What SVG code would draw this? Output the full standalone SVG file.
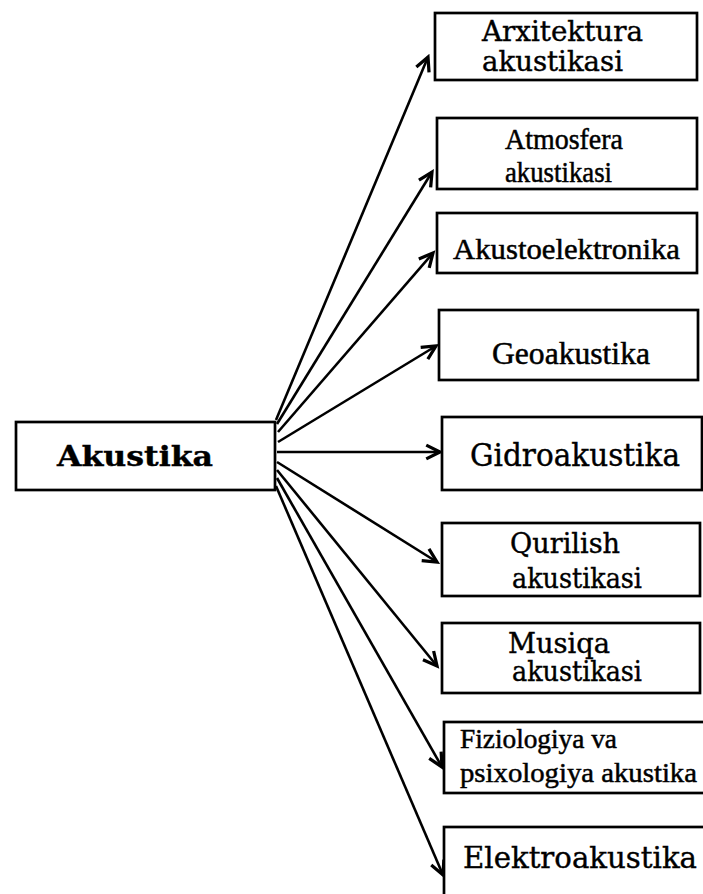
<svg xmlns="http://www.w3.org/2000/svg" width="703" height="894" viewBox="0 0 703 894">
<style>
.box{fill:#fff;stroke:#000;stroke-width:2.7}
.c{fill:none;stroke:#000;stroke-width:2.6;marker-end:url(#ah)}
.s{font-family:"Liberation Serif","Times New Roman",serif;fill:#000;stroke:#000;stroke-width:0.5}
.d{font-family:"DejaVu Serif",serif;fill:#000;stroke:#000;stroke-width:0.4}
</style>
<defs>
<marker id="ah" markerUnits="userSpaceOnUse" markerWidth="20" markerHeight="20" viewBox="-12 -8 14 16" refX="0" refY="0" orient="auto">
<path d="M-11,-5.5 L0,0 L-11,5.5" fill="none" stroke="#000" stroke-width="2.6"/>
</marker>
</defs>
<rect width="703" height="894" fill="#fff"/>
<g id="connectors">
<line class="c" x1="276" y1="420" x2="428" y2="57"/>
<line class="c" x1="277" y1="424" x2="432" y2="172"/>
<line class="c" x1="278" y1="432" x2="433" y2="253"/>
<line class="c" x1="278" y1="442" x2="436" y2="346"/>
<line class="c" x1="277" y1="452" x2="440" y2="452"/>
<line class="c" x1="277" y1="462" x2="437" y2="562"/>
<line class="c" x1="277" y1="470" x2="437" y2="666"/>
<line class="c" x1="277" y1="478" x2="442" y2="767"/>
<line class="c" x1="276" y1="486" x2="443" y2="875"/>
</g>
<g id="akustika">
<rect class="box" x="16" y="422" width="259" height="68"/>
<text class="d" x="57" y="466" font-size="28" font-weight="bold" textLength="156" lengthAdjust="spacingAndGlyphs">Akustika</text>
</g>
<g id="arxitektura">
<rect class="box" x="435" y="13" width="262" height="67"/>
<text class="d" x="482" y="41" font-size="27" textLength="161" lengthAdjust="spacingAndGlyphs">Arxitektura</text>
<text class="d" x="482" y="71" font-size="27" textLength="141" lengthAdjust="spacingAndGlyphs">akustikasi</text>
</g>
<g id="atmosfera">
<rect class="box" x="437" y="118" width="260" height="71"/>
<text class="s" x="505" y="149" font-size="29" textLength="118" lengthAdjust="spacingAndGlyphs">Atmosfera</text>
<text class="s" x="505" y="182" font-size="29" textLength="107" lengthAdjust="spacingAndGlyphs">akustikasi</text>
</g>
<g id="akustoelektronika">
<rect class="box" x="437" y="213" width="260" height="60"/>
<text class="s" x="453" y="259" font-size="30" textLength="227" lengthAdjust="spacingAndGlyphs">Akustoelektronika</text>
</g>
<g id="geoakustika">
<rect class="box" x="439" y="310" width="259" height="70"/>
<text class="s" x="492" y="364" font-size="31" textLength="158" lengthAdjust="spacingAndGlyphs">Geoakustika</text>
</g>
<g id="gidroakustika">
<rect class="box" x="442" y="417" width="260" height="73"/>
<text class="d" x="470" y="466" font-size="31" textLength="210" lengthAdjust="spacingAndGlyphs">Gidroakustika</text>
</g>
<g id="qurilish">
<rect class="box" x="442" y="523" width="258" height="73"/>
<text class="d" x="510" y="553" font-size="27" textLength="110" lengthAdjust="spacingAndGlyphs">Qurilish</text>
<text class="d" x="512" y="588" font-size="27" textLength="130" lengthAdjust="spacingAndGlyphs">akustikasi</text>
</g>
<g id="musiqa">
<rect class="box" x="442" y="623" width="258" height="70"/>
<text class="d" x="508" y="653" font-size="27" textLength="102" lengthAdjust="spacingAndGlyphs">Musiqa</text>
<text class="d" x="512" y="681" font-size="27" textLength="130" lengthAdjust="spacingAndGlyphs">akustikasi</text>
</g>
<g id="fiziologiya">
<rect class="box" x="444" y="722" width="262" height="71"/>
<text class="s" x="460" y="748" font-size="28" textLength="157" lengthAdjust="spacingAndGlyphs">Fiziologiya va</text>
<text class="s" x="460" y="782" font-size="28" textLength="237" lengthAdjust="spacingAndGlyphs">psixologiya akustika</text>
</g>
<g id="elektroakustika">
<rect class="box" x="444" y="827" width="262" height="80"/>
<text class="d" x="463" y="868" font-size="30" textLength="234" lengthAdjust="spacingAndGlyphs">Elektroakustika</text>
</g>
</svg>
